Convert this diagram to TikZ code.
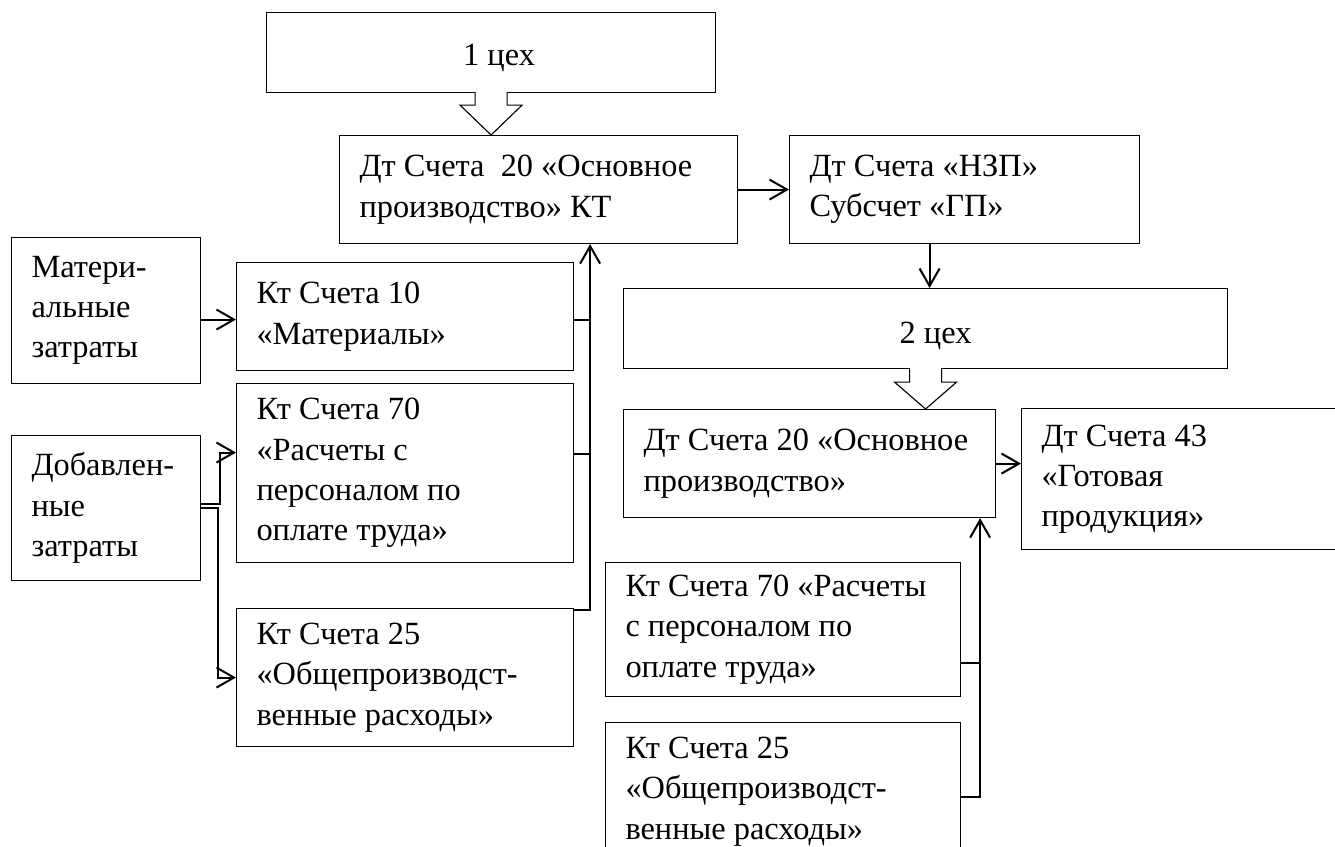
\documentclass[tikz,border=0pt]{standalone}
\usepackage{fontspec}
\setmainfont{Liberation Serif}
\usetikzlibrary{arrows.meta,calc}
\tikzset{
  bx/.style={draw, line width=0.45pt, fill=white, inner sep=0pt, anchor=north west},
  tx/.style={anchor=west, align=left, inner sep=0pt, font=\fontsize{12.95}{16.1}\selectfont},
  ctx/.style={anchor=center, inner sep=0pt, font=\fontsize{12.95}{16.1}\selectfont},
  ar/.style={line width=0.8pt, -{Straight Barb[length=7pt,width=8pt]}},
  ln/.style={line width=0.8pt},
  blk/.style={draw, line width=0.45pt, fill=white}
}
\newcommand\accbox[5]{\node[bx, minimum width={(#4-#2)*0.4pt}, minimum height={(#5-#3)*0.4pt}] (#1) at (#2,#3) {};}
\newcommand\acctext[2]{\node[tx] (#1t) at ($(#1.west)+(20,0)$) {#2};}
\begin{document}
\begin{tikzpicture}[x=0.4pt, y=-0.4pt]
\useasboundingbox (0,0) rectangle (1335,847);
\clip (0,0) rectangle (1335,847);
% boxes
\accbox{cex1}{266}{12}{715}{92}
\accbox{box1}{339}{135}{737}{243}
\accbox{nzp}{789}{135}{1139}{243}
\accbox{mat}{11}{237}{200}{383}
\accbox{kt10}{236}{262}{573}{370}
\accbox{dob}{11}{435}{200}{580}
\accbox{kt70}{236}{383}{573}{562}
\accbox{kt25}{236}{608}{573}{746}
\accbox{cex2}{623}{288}{1227}{368}
\accbox{dtr}{623}{409}{995}{517}
\accbox{g43}{1021}{408}{1345}{549}
\accbox{kt70r}{605}{562}{960}{696}
\accbox{kt25r}{605}{722}{960}{860}
% texts
\node[ctx] (cex1t) at ($(cex1.center)+(8,5)$) {1 цех};
\acctext{box1}{Дт Счета\ \ 20 «Основное\\производство» КТ}
\acctext{nzp}{Дт Счета «НЗП»\\Субсчет «ГП»}
\acctext{mat}{Матери-\\альные\\затраты}
\acctext{kt10}{Кт Счета 10\\«Материалы»}
\acctext{dob}{Добавлен-\\ные\\затраты}
\acctext{kt70}{Кт Счета 70\\«Расчеты с\\персоналом по\\оплате труда»}
\acctext{kt25}{Кт Счета 25\\«Общепроизводст-\\венные расходы»}
\node[ctx] (cex2t) at ($(cex2.center)+(10,7)$) {2 цех};
\acctext{dtr}{Дт Счета 20 «Основное\\производство»}
\acctext{g43}{Дт Счета 43\\«Готовая\\продукция»}
\acctext{kt70r}{Кт Счета 70 «Расчеты\\с персоналом по\\оплате труда»}
\acctext{kt25r}{Кт Счета 25\\«Общепроизводст-\\венные расходы»}
% block arrows
\coordinate (c1s) at (cex1.south);
\draw[blk] ($(c1s)+(-16,-1)$) -- ($(c1s)+(-16,12)$) -- ($(c1s)+(-31,12)$) -- (c1s |- box1.north)
  -- ($(c1s)+(31,12)$) -- ($(c1s)+(16,12)$) -- ($(c1s)+(16,-1)$);
\coordinate (c2s) at (cex2.south);
\draw[blk] ($(c2s)+(-16,-1)$) -- ($(c2s)+(-16,13)$) -- ($(c2s)+(-31,13)$) -- (c2s |- dtr.north)
  -- ($(c2s)+(31,13)$) -- ($(c2s)+(16,13)$) -- ($(c2s)+(16,-1)$);
% connectors
\coordinate (m1) at ($(kt10.west)+(0,3)$);
\draw[ar] (mat.east |- m1) -- (m1);
\draw[ar] (box1.east) -- (nzp.west);
\coordinate (n1) at ($(cex2.north)+(4,0)$);
\draw[ar] (nzp.south -| n1) -- (n1);
\draw[ar] (dtr.east) -- (g43.west |- dtr.east);
% right bus
\coordinate (r70) at ($(kt70r.east)+(0,33)$);
\coordinate (r25) at ($(kt25r.east)+(0,5)$);
\coordinate (rb) at ($(r25)+(19,0)$);
\draw[ln] (r70) -- (r70 -| rb);
\draw[ar] (r25) -- (rb) -- (rb |- dtr.south);
% left bus
\coordinate (l10) at ($(kt10.east)+(0,3)$);
\coordinate (l70) at ($(kt70.east)+(0,-19.5)$);
\coordinate (l25) at ($(kt25.north east)+(0,2)$);
\coordinate (lb) at ($(l25)+(16,0)$);
\draw[ln] (l10) -- (l10 -| lb);
\draw[ln] (l70) -- (l70 -| lb);
\draw[ar] (l25) -- (lb) -- (lb |- box1.south);
% added costs
\coordinate (d1) at ($(dob.east)+(0,-4.5)$);
\coordinate (d2) at ($(dob.east)+(0,-0.5)$);
\coordinate (t70) at ($(kt70.west)+(0,-20.5)$);
\coordinate (t25) at (kt25.west);
\coordinate (dv1) at ($(d1)+(19,0)$);
\coordinate (dv2) at ($(d2)+(17,0)$);
\draw[ar] (d1) -- (dv1) -- (dv1 |- t70) -- (t70);
\draw[ar] (d2) -- (dv2) -- (dv2 |- t25) -- (t25);
\end{tikzpicture}
\end{document}
